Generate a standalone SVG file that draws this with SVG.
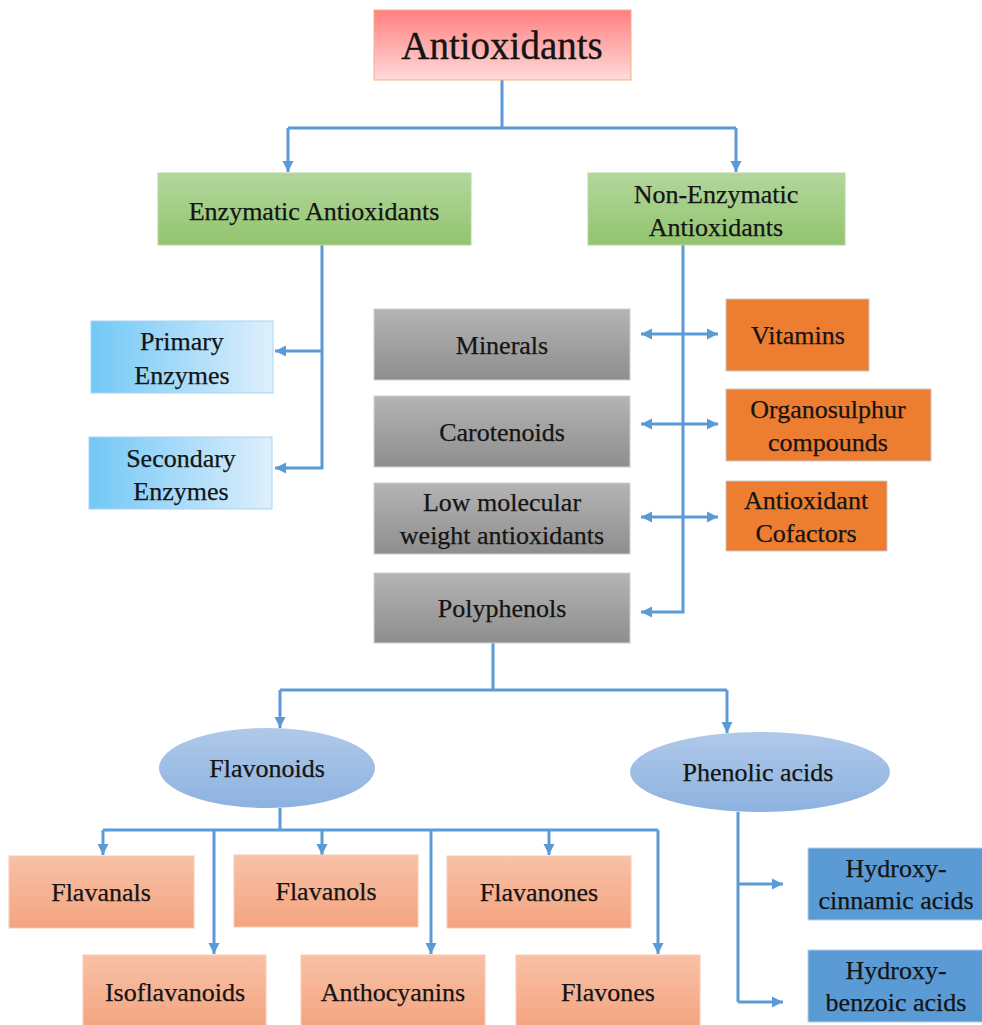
<svg xmlns="http://www.w3.org/2000/svg" width="982" height="1025" viewBox="0 0 982 1025">
<defs>
<linearGradient id="gPink" x1="0" y1="0" x2="0" y2="1"><stop offset="0" stop-color="#ff7f7f"/><stop offset="1" stop-color="#ffdada"/></linearGradient>
<linearGradient id="gGreen" x1="0" y1="0" x2="0" y2="1"><stop offset="0" stop-color="#b2d79c"/><stop offset="1" stop-color="#92c46f"/></linearGradient>
<linearGradient id="gBlueH" x1="0" y1="0" x2="1" y2="0"><stop offset="0" stop-color="#72c8f6"/><stop offset="1" stop-color="#deeffc"/></linearGradient>
<linearGradient id="gGray" x1="0" y1="0" x2="0" y2="1"><stop offset="0" stop-color="#b4b4b4"/><stop offset="1" stop-color="#8e8e8e"/></linearGradient>
<linearGradient id="gSalmon" x1="0" y1="0" x2="0" y2="1"><stop offset="0" stop-color="#f8c1a6"/><stop offset="1" stop-color="#f4a47f"/></linearGradient>
<linearGradient id="gEll" x1="0" y1="0" x2="0" y2="1"><stop offset="0" stop-color="#afc9e9"/><stop offset="1" stop-color="#8db2e0"/></linearGradient>
<marker id="ah" viewBox="0 0 10 10" refX="10" refY="5" markerWidth="3.8" markerHeight="3.8" orient="auto-start-reverse" markerUnits="strokeWidth">
<path d="M0,0 L10,5 L0,10 z" fill="#5b9bd5"/>
</marker>
</defs>
<style>
text{font-family:"Liberation Serif","Times New Roman",serif;fill:#141414;text-anchor:middle;font-size:26px;stroke:#141414;stroke-width:0.25}
.title{font-size:39px;stroke-width:0.35}
.c{fill:none;stroke:#5b9bd5;stroke-width:3}
.a{fill:none;stroke:#5b9bd5;stroke-width:3;marker-end:url(#ah)}
.d{fill:none;stroke:#5b9bd5;stroke-width:3;marker-end:url(#ah);marker-start:url(#ah)}
.pink{fill:url(#gPink);stroke:#f4b183;stroke-width:1}
.green{fill:url(#gGreen);stroke:#b5d8a0;stroke-width:1}
.lblue{fill:url(#gBlueH);stroke:#a9d4f2;stroke-width:1}
.gray{fill:url(#gGray);stroke:#d0d0d0;stroke-width:1}
.orange{fill:#ed7d31;stroke:#c9c9c9;stroke-width:1}
.salmon{fill:url(#gSalmon);stroke:#f8cbb4;stroke-width:1}
.ell{fill:url(#gEll)}
.dblue{fill:#5b9bd5;stroke:#b8cfe6;stroke-width:1}
</style>
<g id="connectors">
<path class="c" d="M502,80 V128 M288,128 H736"/>
<path class="a" d="M288,128 V172"/>
<path class="a" d="M736,128 V172"/>
<path class="c" d="M322,245 V469"/>
<path class="a" d="M323,351 H275"/>
<path class="a" d="M323,468 H275"/>
<path class="a" d="M683,245 V612 H641"/>
<path class="d" d="M641,334 H718"/>
<path class="d" d="M641,424 H718"/>
<path class="d" d="M641,517 H718"/>
<path class="c" d="M493,643 V690 M280,690 H727"/>
<path class="a" d="M280,690 V728"/>
<path class="a" d="M727,690 V733"/>
<path class="c" d="M280,808 V830 M103,830 H658"/>
<path class="a" d="M103,830 V855"/>
<path class="a" d="M322,830 V855"/>
<path class="a" d="M549,830 V855"/>
<path class="a" d="M214,830 V954"/>
<path class="a" d="M431,830 V954"/>
<path class="a" d="M658,830 V954"/>
<path class="c" d="M738,812 V1002"/>
<path class="a" d="M738,884 H783"/>
<path class="a" d="M738,1002 H783"/>
</g>
<g id="n-antioxidants"><rect class="pink" x="374" y="10" width="257" height="70"/><text class="title" x="502" y="59">Antioxidants</text></g>
<g id="n-enzymatic"><rect class="green" x="158" y="173" width="313" height="72"/><text x="314" y="220">Enzymatic Antioxidants</text></g>
<g id="n-nonenzymatic"><rect class="green" x="588" y="173" width="257" height="72"/><text x="716" y="203">Non-Enzymatic</text><text x="716" y="236">Antioxidants</text></g>
<g id="n-primary"><rect class="lblue" x="91" y="321" width="182" height="72"/><text x="182" y="350">Primary</text><text x="182" y="384">Enzymes</text></g>
<g id="n-secondary"><rect class="lblue" x="89" y="437" width="183" height="72"/><text x="181" y="467">Secondary</text><text x="181" y="500">Enzymes</text></g>
<g id="n-minerals"><rect class="gray" x="374" y="309" width="256" height="71"/><text x="502" y="354">Minerals</text></g>
<g id="n-carotenoids"><rect class="gray" x="374" y="396" width="256" height="71"/><text x="502" y="441">Carotenoids</text></g>
<g id="n-lowmw"><rect class="gray" x="374" y="483" width="256" height="71"/><text x="502" y="511">Low molecular</text><text x="502" y="544">weight antioxidants</text></g>
<g id="n-polyphenols"><rect class="gray" x="374" y="573" width="256" height="70"/><text x="502" y="617">Polyphenols</text></g>
<g id="n-vitamins"><rect class="orange" x="726" y="299" width="143" height="72"/><text x="798" y="344">Vitamins</text></g>
<g id="n-organosulphur"><rect class="orange" x="726" y="389" width="205" height="72"/><text x="828" y="418">Organosulphur</text><text x="828" y="451">compounds</text></g>
<g id="n-cofactors"><rect class="orange" x="726" y="481" width="161" height="70"/><text x="806" y="509">Antioxidant</text><text x="806" y="542">Cofactors</text></g>
<g id="n-flavonoids"><ellipse class="ell" cx="267" cy="768" rx="108" ry="40"/><text x="267" y="777">Flavonoids</text></g>
<g id="n-phenolic"><ellipse class="ell" cx="760" cy="772" rx="130" ry="40"/><text x="758" y="781">Phenolic acids</text></g>
<g id="n-flavanals"><rect class="salmon" x="9" y="856" width="185" height="72"/><text x="101" y="901">Flavanals</text></g>
<g id="n-flavanols"><rect class="salmon" x="234" y="855" width="184" height="72"/><text x="326" y="900">Flavanols</text></g>
<g id="n-flavanones"><rect class="salmon" x="447" y="856" width="184" height="72"/><text x="539" y="901">Flavanones</text></g>
<g id="n-isoflavanoids"><rect class="salmon" x="83" y="955" width="183" height="72"/><text x="175" y="1001">Isoflavanoids</text></g>
<g id="n-anthocyanins"><rect class="salmon" x="301" y="955" width="184" height="72"/><text x="393" y="1001">Anthocyanins</text></g>
<g id="n-flavones"><rect class="salmon" x="516" y="955" width="184" height="72"/><text x="608" y="1001">Flavones</text></g>
<g id="n-hcinnamic"><rect class="dblue" x="808" y="848" width="176" height="72"/><text x="896" y="877">Hydroxy-</text><text x="896" y="909">cinnamic acids</text></g>
<g id="n-hbenzoic"><rect class="dblue" x="808" y="950" width="176" height="72"/><text x="896" y="979">Hydroxy-</text><text x="896" y="1011">benzoic acids</text></g>
</svg>
